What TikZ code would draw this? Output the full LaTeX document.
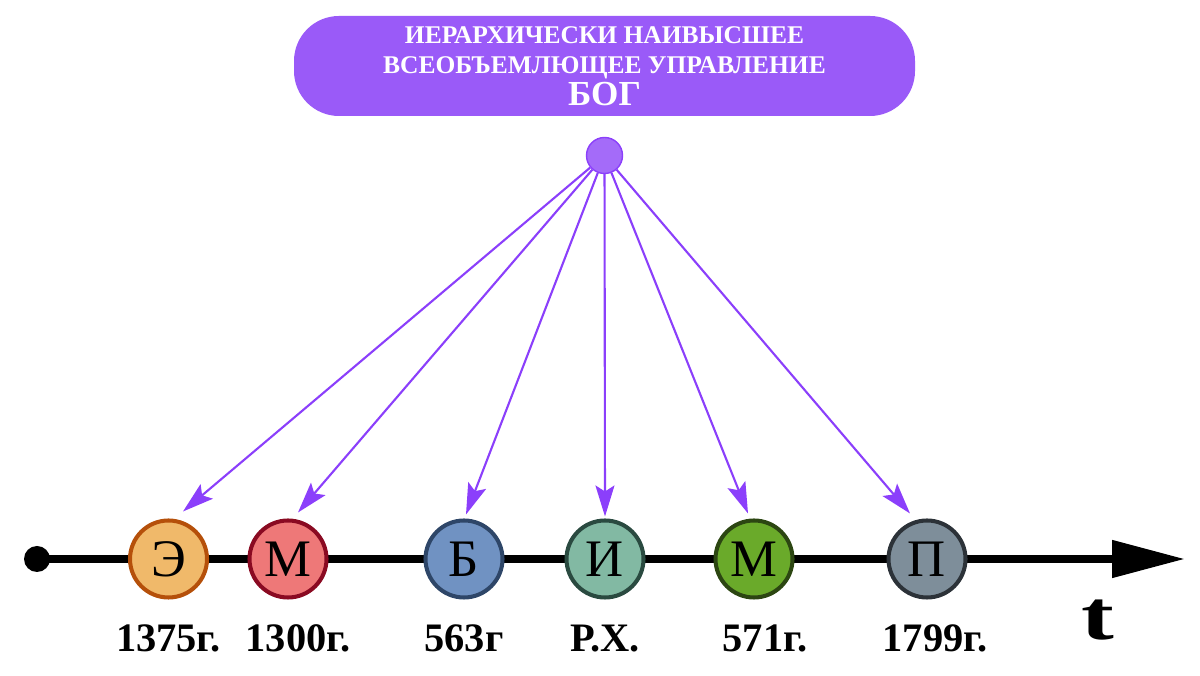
\documentclass[tikz,border=0pt]{standalone}
\usepackage{fontspec}
\setmainfont{Liberation Serif}
\usetikzlibrary{arrows.meta, positioning, calc}

\definecolor{godpurple}{HTML}{9A5AF8}
\definecolor{raypurple}{HTML}{8B3FFB}
\definecolor{efill}{HTML}{F0B96A}
\definecolor{eline}{HTML}{B5500A}
\definecolor{mfill}{HTML}{EE7878}
\definecolor{mline}{HTML}{8A0A22}
\definecolor{bfill}{HTML}{7092C2}
\definecolor{bline}{HTML}{2E4668}
\definecolor{ifill}{HTML}{82B9A3}
\definecolor{iline}{HTML}{2A4A40}
\definecolor{gfill}{HTML}{6AAA2A}
\definecolor{gline}{HTML}{2C4612}
\definecolor{pfill}{HTML}{7E8E9A}
\definecolor{pline}{HTML}{2C3238}

\begin{document}
\begin{tikzpicture}[
        banner/.style={rectangle, rounded corners=0.9cm, fill=godpurple, text=white, align=center, minimum width=12.42cm, minimum height=2cm, inner sep=0pt, font=\bfseries\fontsize{14.5}{15.5}\selectfont},
        hubdot/.style={circle, fill=godpurple!90!white, draw=raypurple, line width=0.8pt, minimum size=0.72cm, inner sep=0pt},
        era/.style={circle, line width=2.3pt, minimum size=1.54cm, inner sep=0pt, font=\fontsize{30}{30}\selectfont},
        year/.style={inner sep=0pt, font=\bfseries\fontsize{23}{23}\selectfont},
        ray/.style={-{Stealth[length=0.62cm, width=0.38cm, inset=0.12cm]}, line width=1.2pt, draw=raypurple},
        axis/.style={-{Triangle[length=1.46cm, width=0.72cm]}, line width=4.5pt}
    ]
    \useasboundingbox (0,0) rectangle (24,13.52);

    % The banner and the hub
    \node (god) [banner] at (12.09,12.2) {ИЕРАРХИЧЕСКИ НАИВЫСШЕЕ \\[1.5pt] ВСЕОБЪЕМЛЮЩЕЕ УПРАВЛЕНИЕ \\[1pt] {\fontsize{20}{20}\selectfont БОГ}};
    \node (hub) [hubdot] at (12.09,10.41) {};

    % The time axis
    \node (start) [circle, fill=black, minimum size=0.52cm, inner sep=0pt] at (0.74,2.34) {};
    \coordinate (tend) at (23.7,2.34);
    \draw [axis] (start.center) -- (tend);
    \node (tlabel) at (21.96,1.12) {\bfseries\fontsize{40}{40}\selectfont\scalebox{1.4}[1]{t}};

    % The circles on the axis
    \node (e) [era, fill=efill, draw=eline] at (3.37,2.34) {Э};
    \node (m) [era, fill=mfill, draw=mline] at (5.76,2.34) {М};
    \node (b) [era, fill=bfill, draw=bline] at (9.28,2.34) {Б};
    \node (i) [era, fill=ifill, draw=iline] at (12.10,2.34) {И};
    \node (g) [era, fill=gfill, draw=gline] at (15.08,2.34) {М};
    \node (p) [era, fill=pfill, draw=pline] at (18.54,2.34) {П};

    % The years
    \node (ye) [year, below=0.5cm of e] {1375г.};
    \node (ym) [year, below=0.5cm of m, xshift=0.2cm] {1300г.};
    \node (yb) [year, below=0.5cm of b] {563г};
    \node (yi) [year, below=0.5cm of i] {Р.Х.};
    \node (yg) [year, below=0.5cm of g, xshift=0.22cm] {571г.};
    \node (yp) [year, below=0.5cm of p, xshift=0.16cm] {1799г.};

    % The rays from the hub
    \draw [ray] (hub) -- ([shift={(0.29,0.14)}]e.north);
    \draw [ray] (hub) -- ([shift={(0.2,0.12)}]m.north);
    \draw [ray] (hub) -- ([shift={(0.04,0.08)}]b.north);
    \draw [ray] (hub) -- ([shift={(0,0.04)}]i.north);
    \draw [ray] (hub) -- ([shift={(-0.12,0.1)}]g.north);
    \draw [ray] (hub) -- ([shift={(-0.34,0.1)}]p.north);

    \end{tikzpicture}
\end{document}
